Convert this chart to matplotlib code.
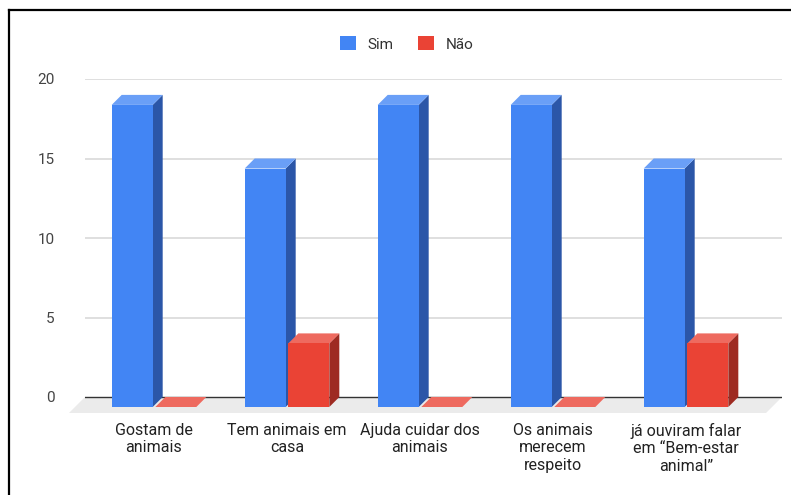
import matplotlib
matplotlib.use("Agg")
import matplotlib.pyplot as plt
from matplotlib.patches import Polygon, Rectangle, Patch
from matplotlib.lines import Line2D

categories = ["Gostam de\nanimais", "Tem animais em\ncasa", "Ajuda cuidar dos\nanimais",
              "Os animais\nmerecem\nrespeito", "já ouviram falar\nem \u201cBem-estar\nanimal\u201d"]
series_names = ["Sim", "Não"]
sim = [19, 15, 19, 19, 15]
nao = [0, 4, 0, 0, 4]
yticks = [0, 5, 10, 15, 20]

front_colors = ["#4285F4", "#EA4335"]
top_colors = ["#6A9FF7", "#EE6A5F"]
side_colors = ["#2B56A8", "#9E2B22"]

plt.rcParams['font.family'] = ['Roboto', 'DejaVu Sans']

W, H = 791, 495
fig = plt.figure(figsize=(W / 100, H / 100), dpi=100)

left_px, right_px = 85, 782
y0_px, ytop_px = 397, 79
ymin, ymax = -1.2, 20
ppu = (y0_px - ytop_px) / ymax
bottom_px = y0_px - ymin * ppu
spacing_px = 133
first_back_center = 164
xmin = (left_px - first_back_center) / spacing_px
xmax = (right_px - first_back_center) / spacing_px

ax = fig.add_axes([left_px / W, (H - bottom_px) / H,
                   (right_px - left_px) / W, (bottom_px - ytop_px) / H])
ax.set_xlim(xmin, xmax)
ax.set_ylim(ymin, ymax)
for s in ax.spines.values():
    s.set_visible(False)

# depth offsets (10 px) in data units
dx = 10 / spacing_px
dy = 10 / ppu

# floor
fdx = 16 / spacing_px
fdy = 16 / ppu
ax.add_patch(Polygon([(xmin, 0), (xmax, 0), (xmax - fdx, -fdy), (xmin - fdx, -fdy)],
                     closed=True, facecolor="#EBEBEB", edgecolor="none", zorder=1,
                     clip_on=False))

# gridlines
for t in yticks[1:]:
    ax.axhline(t, color="#D9D9D9", lw=1.2, zorder=0.5)
ax.axhline(0, color="#333333", lw=1.0, zorder=1.5)

w = 41 / spacing_px
offs = [-0.164, 0.164]
z = 2
for i in range(len(categories)):
    for j, vals in enumerate([sim, nao]):
        v = vals[i]
        xl = i + offs[j] - w / 2
        xr = i + offs[j] + w / 2
        # side
        ax.add_patch(Polygon([(xr - dx, -dy), (xr, 0), (xr, v), (xr - dx, v - dy)],
                             closed=True, facecolor=side_colors[j], edgecolor="none", zorder=z))
        # top
        ax.add_patch(Polygon([(xl - dx, v - dy), (xr - dx, v - dy), (xr, v), (xl, v)],
                             closed=True, facecolor=top_colors[j], edgecolor="none", zorder=z))
        # front
        if v > 0:
            ax.add_patch(Rectangle((xl - dx, -dy), w, v, facecolor=front_colors[j],
                                   edgecolor="none", zorder=z))
        z += 0.01

ax.set_yticks(yticks)
ax.set_yticklabels([str(t) for t in yticks], color="#444444", fontsize=11)
ax.tick_params(axis="y", length=0, pad=22)
ax.set_xticks([i - dx for i in range(len(categories))])
ax.set_xticklabels(categories, color="#222222", fontsize=11.5, linespacing=1.2)
ax.tick_params(axis="x", length=0, pad=5)

handles = [Patch(facecolor=c, edgecolor="none") for c in front_colors]
fig.legend(handles, series_names, loc="center", bbox_to_anchor=(407 / W, 1 - 44 / H),
           ncol=2, frameon=False, fontsize=11, handlelength=1.0, handleheight=1.0,
           handletextpad=0.8, columnspacing=1.6, labelcolor="#333333")

# frame lines
fig.add_artist(Line2D([9 / W, 1], [1 - 10 / H, 1 - 10 / H], color="black", lw=1.6,
                      transform=fig.transFigure))
fig.add_artist(Line2D([9 / W, 9 / W], [0, 1 - 10 / H], color="black", lw=1.6,
                      transform=fig.transFigure))

fig.savefig("out.png", dpi=100)
